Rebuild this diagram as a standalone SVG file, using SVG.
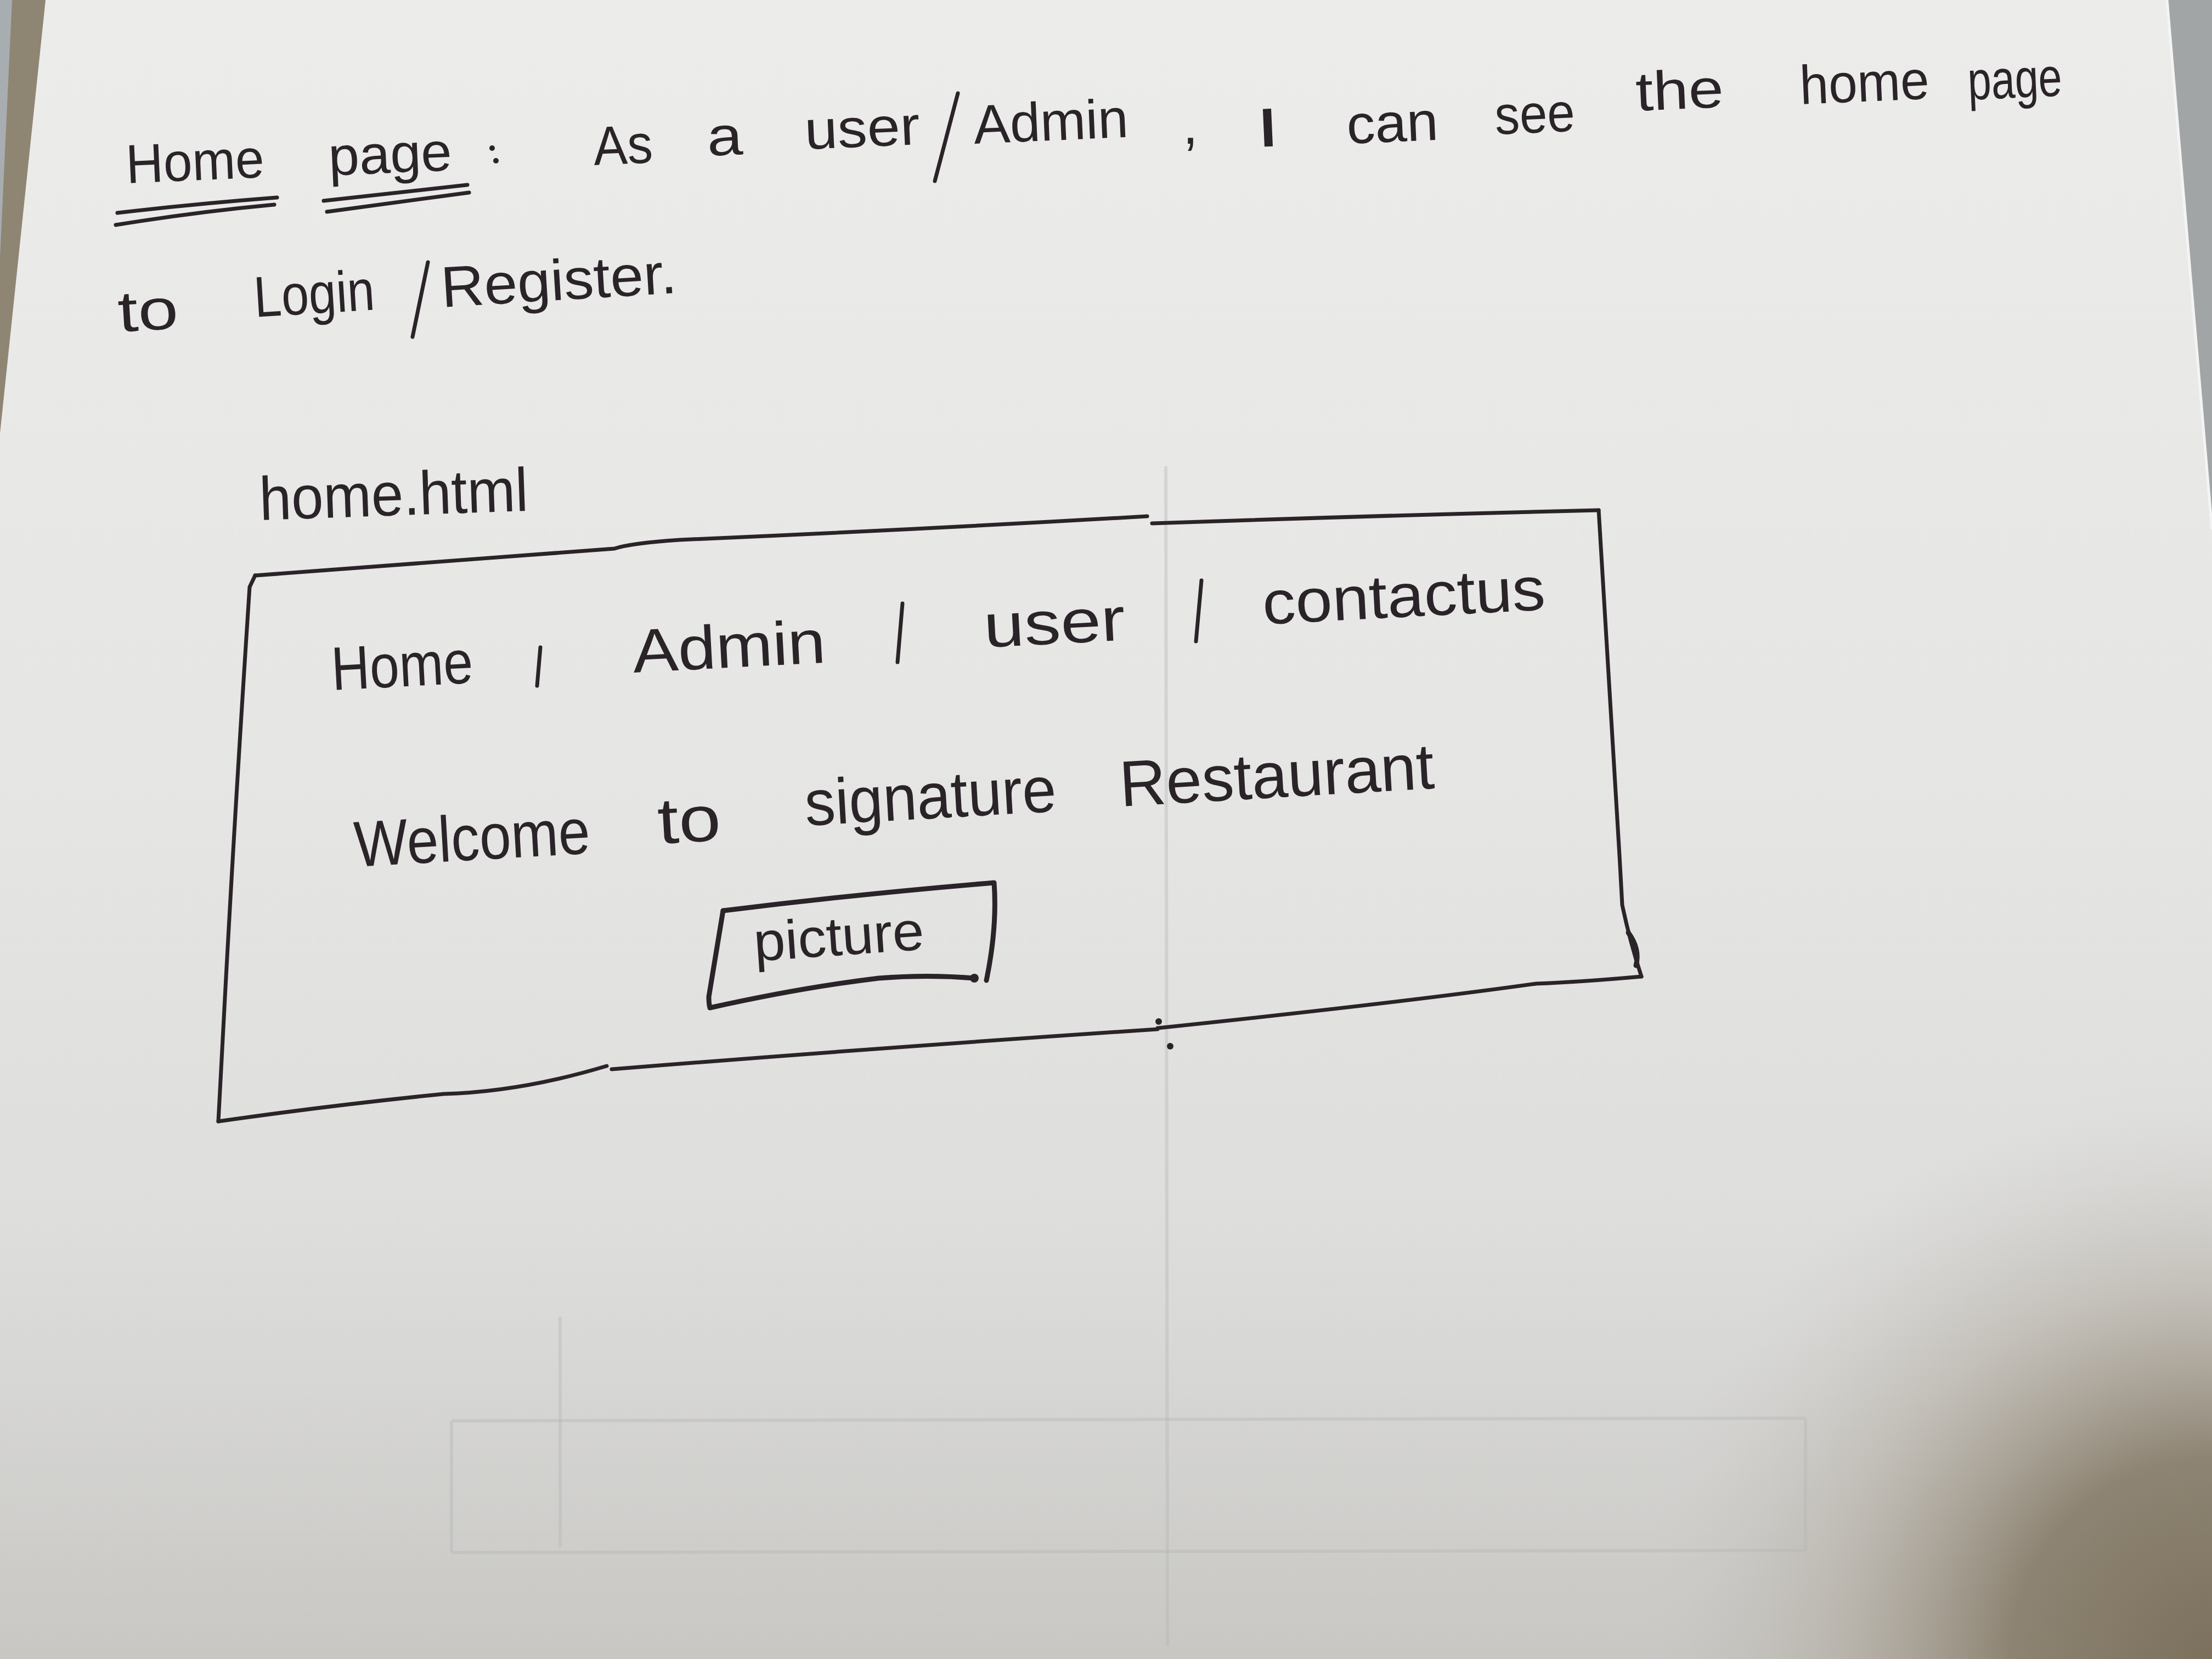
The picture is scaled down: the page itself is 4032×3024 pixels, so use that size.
<svg xmlns="http://www.w3.org/2000/svg" width="4032" height="3024" viewBox="0 0 4032 3024">
  <defs>
    <linearGradient id="paperTone" x1="0" y1="0" x2="0" y2="1">
      <stop offset="0" stop-color="#ececeb"/>
      <stop offset="0.45" stop-color="#e6e6e5"/>
      <stop offset="0.8" stop-color="#dcdcdb"/>
      <stop offset="1" stop-color="#d2d2d0"/>
    </linearGradient>
    <radialGradient id="cornerShade" cx="4032" cy="3024" r="1050" gradientUnits="userSpaceOnUse">
      <stop offset="0" stop-color="#7c705d" stop-opacity="1"/>
      <stop offset="0.35" stop-color="#857a67" stop-opacity="0.88"/>
      <stop offset="0.65" stop-color="#a39a8c" stop-opacity="0.4"/>
      <stop offset="1" stop-color="#c8c6c2" stop-opacity="0"/>
    </radialGradient>
    <linearGradient id="bottomShade" x1="0" y1="0" x2="0" y2="1">
      <stop offset="0" stop-color="#b9b6b0" stop-opacity="0"/>
      <stop offset="1" stop-color="#aaa69e" stop-opacity="0.25"/>
    </linearGradient>
  </defs>
  <style>
    .ink { fill: none; stroke: #2a2428; stroke-width: 7; stroke-linecap: round; stroke-linejoin: round; }
    .ink-thick { fill: none; stroke: #2a2428; stroke-width: 9; stroke-linecap: round; stroke-linejoin: round; }
    .hand { font-family: "Liberation Sans", Arial, sans-serif; fill: #2a2428; }
    .l1 { font-size: 100px; }
    .l2 { font-size: 105px; }
    .nav { font-size: 112px; }
    .wel { font-size: 118px; }
    .ghost { fill: none; stroke: #b4b6b6; stroke-width: 6; opacity: 0.4; }
  </style>

  <!-- table and paper -->
  <rect x="0" y="0" width="4032" height="3024" fill="#8e8573"/>
  <polygon points="0,0 22,0 0,470" fill="#a7adb0"/>
  <polygon points="3950,0 4032,0 4032,965" fill="#a1a5a5"/>
  <polygon points="83,0 3950,0 4032,965 4032,3024 0,3024 0,790" fill="url(#paperTone)"/>
  <polyline points="3950,0 4032,965" fill="none" stroke="#f4f4f4" stroke-width="5"/>
  <rect x="0" y="2200" width="4032" height="824" fill="url(#bottomShade)"/>
  <rect x="2600" y="1800" width="1432" height="1224" fill="url(#cornerShade)"/>

  <!-- lines showing through from the back of the sheet -->
  <g id="show-through">
    <path class="ghost" d="M823,2590 L3291,2585 M823,2830 L3291,2826 M823,2590 L823,2830 M3291,2585 L3291,2826"/>
    <path class="ghost" d="M2125,850 L2128,3000" opacity="0.15"/>
    <path class="ghost" d="M1021,2400 L1021,2820" opacity="0.2"/>
  </g>

  <!-- heading: user story -->
  <g id="heading">
    <text class="hand l1" x="231" y="334" textLength="252" lengthAdjust="spacingAndGlyphs" transform="rotate(-2.5 231 334)">Home</text>
    <text class="hand l1" x="600" y="320" textLength="225" lengthAdjust="spacingAndGlyphs" transform="rotate(-2.5 600 320)">page</text>
    <path class="ink" d="M214,388 Q350,372 505,360 M211,410 Q360,386 500,373"/>
    <path class="ink" d="M590,366 L852,337 M596,386 L855,351"/>
    <circle cx="897" cy="270" r="5" fill="#2a2428"/>
    <circle cx="904" cy="293" r="5" fill="#2a2428"/>
    <text class="hand l1" x="1083" y="301" textLength="108" lengthAdjust="spacingAndGlyphs" transform="rotate(-2.5 1083 301)">As</text>
    <text class="hand l1" x="1290" y="284" textLength="65" lengthAdjust="spacingAndGlyphs" transform="rotate(-2.5 1290 284)">a</text>
    <text class="hand l1" x="1468" y="272" textLength="210" lengthAdjust="spacingAndGlyphs" transform="rotate(-2.5 1468 272)">user</text>
    <path class="ink" d="M1746,170 L1704,330"/>
    <text class="hand l1" x="1776" y="262" textLength="282" lengthAdjust="spacingAndGlyphs" transform="rotate(-2.5 1776 262)">Admin</text>
    <text class="hand l1" x="2156" y="262">,</text>
    <text class="hand l1" x="2290" y="268" textLength="45" lengthAdjust="spacingAndGlyphs" transform="rotate(-2.5 2290 268)">I</text>
    <text class="hand l1" x="2456" y="262" textLength="167" lengthAdjust="spacingAndGlyphs" transform="rotate(-2.5 2456 262)">can</text>
    <text class="hand l1" x="2726" y="245" textLength="146" lengthAdjust="spacingAndGlyphs" transform="rotate(-2.5 2726 245)">see</text>
    <text class="hand l1" x="2983" y="202" textLength="160" lengthAdjust="spacingAndGlyphs" transform="rotate(-2.5 2983 202)">the</text>
    <text class="hand l1" x="3282" y="190" textLength="236" lengthAdjust="spacingAndGlyphs" transform="rotate(-2.5 3282 190)">home</text>
    <text class="hand l1" x="3588" y="182" textLength="172" lengthAdjust="spacingAndGlyphs" transform="rotate(-2.5 3588 182)">page</text>

    <text class="hand l2" x="217" y="605" textLength="110" lengthAdjust="spacingAndGlyphs" transform="rotate(-3.5 217 605)">to</text>
    <text class="hand l2" x="465" y="578" textLength="220" lengthAdjust="spacingAndGlyphs" transform="rotate(-3.5 465 578)">Login</text>
    <path class="ink" d="M780,478 L752,614"/>
    <text class="hand l2" x="806" y="560" textLength="430" lengthAdjust="spacingAndGlyphs" transform="rotate(-3.5 806 560)">Register.</text>
  </g>

  <!-- file name label -->
  <g id="file-label">
    <text class="hand" font-size="112" x="474" y="948" textLength="490" lengthAdjust="spacingAndGlyphs" transform="rotate(-2 474 948)">home.html</text>
  </g>

  <!-- page frame -->
  <g id="page-frame">
    <path class="ink" d="M465,1049 Q860,1020 1120,1000 Q1150,990 1240,984 Q1680,965 2091,941"/>
    <path class="ink" d="M2100,954 Q2500,940 2914,930"/>
    <path class="ink" d="M2914,930 Q2935,1300 2952,1560 L2957,1650 Q2972,1720 2992,1780"/>
    <path class="ink-thick" d="M2968,1700 Q2990,1730 2982,1760"/>
    <path class="ink" d="M2992,1780 Q2880,1790 2800,1793 Q2550,1828 2110,1874"/>
    <path class="ink" d="M2110,1876 Q1600,1910 1115,1949"/>
    <path class="ink" d="M1106,1943 Q950,1990 809,1994 Q600,2015 398,2044"/>
    <path class="ink" d="M398,2044 L411,1800 Q430,1450 455,1070 L465,1049"/>
    <circle cx="2112" cy="1862" r="6" fill="#2a2428"/>
    <circle cx="2133" cy="1907" r="6" fill="#2a2428"/>
  </g>

  <!-- navigation bar -->
  <g id="nav-bar">
    <text class="hand nav" x="606" y="1258" textLength="258" lengthAdjust="spacingAndGlyphs" transform="rotate(-3 606 1258)">Home</text>
    <path class="ink" d="M985,1180 L979,1250"/>
    <text class="hand nav" x="1155" y="1226" textLength="352" lengthAdjust="spacingAndGlyphs" transform="rotate(-3 1155 1226)">Admin</text>
    <path class="ink" d="M1645,1100 L1636,1207"/>
    <text class="hand nav" x="1795" y="1180" textLength="258" lengthAdjust="spacingAndGlyphs" transform="rotate(-3 1795 1180)">user</text>
    <path class="ink" d="M2190,1058 L2180,1169"/>
    <text class="hand nav" x="2303" y="1138" textLength="516" lengthAdjust="spacingAndGlyphs" transform="rotate(-3 2303 1138)">contactus</text>
  </g>

  <!-- welcome line -->
  <g id="welcome">
    <text class="hand wel" x="648" y="1580" textLength="430" lengthAdjust="spacingAndGlyphs" transform="rotate(-3.3 648 1580)">Welcome</text>
    <text class="hand wel" x="1201" y="1538" textLength="115" lengthAdjust="spacingAndGlyphs" transform="rotate(-3.3 1201 1538)">to</text>
    <text class="hand wel" x="1469" y="1505" textLength="459" lengthAdjust="spacingAndGlyphs" transform="rotate(-3.3 1469 1505)">signature</text>
    <text class="hand wel" x="2043" y="1470" textLength="574" lengthAdjust="spacingAndGlyphs" transform="rotate(-3.3 2043 1470)">Restaurant</text>
  </g>

  <!-- picture placeholder -->
  <g id="picture">
    <path class="ink-thick" d="M1318,1660 Q1560,1630 1812,1609 Q1818,1690 1798,1787"/>
    <path class="ink-thick" d="M1776,1783 Q1690,1776 1602,1783 Q1460,1800 1294,1837 Q1292,1830 1292,1817 L1318,1660"/>
    <circle cx="1776" cy="1783" r="8" fill="#2a2428"/>
    <text class="hand" font-size="100" x="1376" y="1752" textLength="311" lengthAdjust="spacingAndGlyphs" transform="rotate(-4 1376 1752)">picture</text>
  </g>
</svg>
